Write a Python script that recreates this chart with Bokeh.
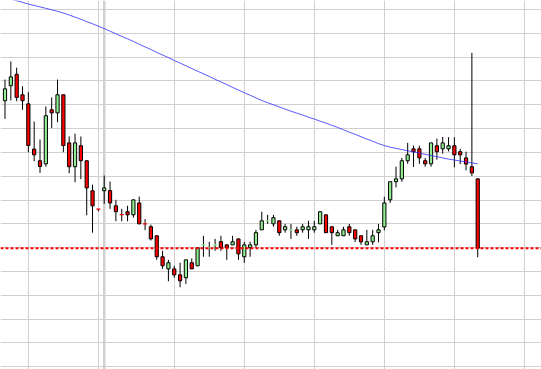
import numpy as np
from bokeh.plotting import figure
from bokeh.models import FixedTicker, Span, Range1d
from bokeh.embed import file_html
from bokeh.resources import INLINE

# OHLC series (price units), one entry per session
opens = [161.7, 168.0, 172.8, 164.2, 160.4, 141.4, 136.5, 135.2, 157.9, 156.6,
         164.2, 144.0, 134.0, 142.8, 136.5, 123.9, 116.25, 123.9, 124.0, 117.6,
         113.95, 115.1, 113.8, 118.8, 110.05, 108.8, 105.0, 96.2, 91.1, 91.1,
         88.6, 87.4, 93.7, 92.4, 101.15, 99.85, 101.15, 102.5, 101.2, 101.2,
         103.7, 96.2, 100.0, 101.2, 107.5, 111.25, 110.0, 111.3, 107.5, 107.45,
         107.5, 107.5, 107.5, 107.5, 110.0, 113.8, 108.8, 105.0, 105.0, 108.8,
         107.5, 105.0, 101.2, 102.5, 106.3, 108.7, 120.1, 127.7, 128.9, 136.5,
         141.5, 141.5, 136.5, 135.2, 142.8, 141.5, 141.5, 142.8, 140.3, 137.7,
         134.0, 128.9]
highs = [170.6, 178.2, 175.6, 167.8, 165.3, 153.0, 145.4, 159.3, 163.1, 170.6,
         164.2, 146.7, 147.9, 146.7, 136.5, 126.5, 116.3, 130.3, 127.8, 120.1,
         116.3, 117.6, 120.1, 121.5, 112.0, 109.7, 105.0, 98.7, 94.9, 92.4,
         93.7, 94.9, 95.5, 100.0, 105.0, 102.5, 103.7, 105.0, 101.2, 105.0,
         103.7, 102.5, 102.5, 107.5, 115.1, 113.8, 113.8, 111.3, 110.0, 110.0,
         108.8, 110.0, 111.3, 111.3, 115.1, 113.8, 108.8, 107.5, 108.8, 110.0,
         107.5, 105.0, 107.5, 107.5, 110.0, 121.4, 127.7, 134.0, 137.7, 144.0,
         142.9, 142.8, 137.7, 144.0, 145.8, 146.5, 146.4, 146.4, 141.5, 140.3,
         181.8, 128.9]
lows = [154.1, 161.8, 161.5, 157.9, 140.1, 136.3, 131.4, 134.0, 150.2, 152.7,
        140.1, 131.3, 127.5, 128.8, 113.6, 106.3, 115.3, 118.4, 116.3, 111.1,
        111.1, 111.1, 112.6, 110.0, 107.4, 103.0, 94.9, 91.1, 85.9, 87.4,
        83.4, 84.8, 91.1, 92.4, 96.2, 96.2, 98.7, 98.7, 94.9, 101.2,
        94.9, 93.7, 96.2, 100.0, 107.5, 110.0, 108.8, 105.0, 106.3, 103.7,
        105.0, 106.3, 103.7, 106.3, 110.0, 106.3, 101.2, 105.0, 105.0, 105.0,
        102.4, 101.2, 101.2, 101.2, 102.3, 107.3, 118.8, 125.3, 127.7, 135.2,
        133.9, 135.2, 134.0, 134.0, 137.0, 139.5, 140.4, 133.8, 135.1, 132.5,
        130.1, 96.0]
closes = [166.7, 171.7, 163.1, 161.7, 142.9, 139.0, 134.1, 155.4, 156.6, 164.2,
          142.9, 134.0, 144.0, 136.5, 125.1, 117.6, 116.2, 125.1, 118.8, 115.1,
          113.9, 113.8, 120.1, 110.0, 110.0, 103.7, 96.2, 92.4, 93.7, 88.6,
          86.1, 94.9, 91.1, 100.0, 101.2, 99.9, 101.2, 100.0, 100.0, 102.5,
          97.4, 101.2, 101.2, 106.3, 111.3, 111.3, 112.6, 106.3, 108.8, 107.5,
          106.3, 108.8, 108.8, 108.8, 115.1, 106.3, 106.3, 106.3, 107.5, 106.3,
          103.7, 102.5, 102.5, 105.0, 107.5, 118.8, 127.7, 128.9, 136.5, 139.0,
          140.3, 137.7, 135.2, 144.0, 140.3, 144.0, 142.8, 139.0, 139.0, 135.1,
          131.4, 99.8]
# long moving average
moving_avg = [205.0, 204.4, 203.7, 203.0, 202.3, 201.7, 201.1, 200.5, 199.9, 199.2,
              198.5, 197.7, 196.8, 195.9, 194.9, 194.0, 193.0, 192.0, 190.9, 189.8,
              188.7, 187.7, 186.6, 185.4, 184.3, 183.2, 182.0, 180.9, 179.8, 178.6,
              177.5, 176.4, 175.2, 174.1, 173.0, 171.9, 170.7, 169.6, 168.5, 167.3,
              166.2, 165.1, 164.0, 162.9, 161.8, 160.9, 160.0, 159.1, 158.2, 157.3,
              156.5, 155.7, 154.8, 154.0, 153.1, 152.3, 151.4, 150.5, 149.5, 148.5,
              147.6, 146.6, 145.6, 144.7, 143.7, 142.9, 142.2, 141.7, 141.2, 140.7,
              140.2, 139.7, 139.2, 138.7, 138.2, 137.7, 137.2, 136.8, 136.4, 136.0,
              135.6, 135.2]
# grid positions (session index / price levels)
vgrid_sessions = [4, 16, 29, 41, 53, 65, 77, 89]
vgrid_major_sessions = [17]
hgrid_levels = list(range(50, 201, 10))

idx = np.arange(len(opens))
o = np.array(opens)
c = np.array(closes)
h = np.array(highs)
lo = np.array(lows)
up = c >= o
colors = np.where(up, "#90ee90", "#ff0000")
doji = np.abs(c - o) < 0.5
nd = ~doji

p = figure(width=541, height=369,
           x_range=Range1d(-0.771, 91.929), y_range=Range1d(48.87, 203.78),
           output_backend="svg", toolbar_location=None,
           x_axis_location=None, y_axis_location=None,
           min_border=0, outline_line_color=None)
p.background_fill_color = "white"
p.border_fill_color = "white"

p.xgrid.ticker = FixedTicker(ticks=vgrid_sessions)
p.ygrid.ticker = FixedTicker(ticks=hgrid_levels)
p.grid.grid_line_color = "#d0d0d0"
p.grid.grid_line_width = 1

for s in vgrid_major_sessions:
    p.add_layout(Span(location=s, dimension="height", line_color="#d0d0d0",
                      line_width=2.5, level="underlay"))

p.segment(x0=idx, y0=h, x1=idx, y1=lo, line_color="black", line_width=1)
p.vbar(x=idx[nd], top=np.maximum(o, c)[nd], bottom=np.minimum(o, c)[nd],
       width=0.55, fill_color=colors[nd], line_color="black", line_width=1)
p.rect(x=idx[doji], y=c[doji], width=0.7, height=1.3, height_units="screen",
       fill_color=colors[doji], line_color=None)

p.line(idx, moving_avg, line_color="#3030ff", line_alpha=0.8, line_width=1)

p.add_layout(Span(location=closes[-1], dimension="width", line_color="#ff0000",
                  line_width=2, line_dash="3 2"))

open("out.html", "w").write(file_html(p, INLINE))
